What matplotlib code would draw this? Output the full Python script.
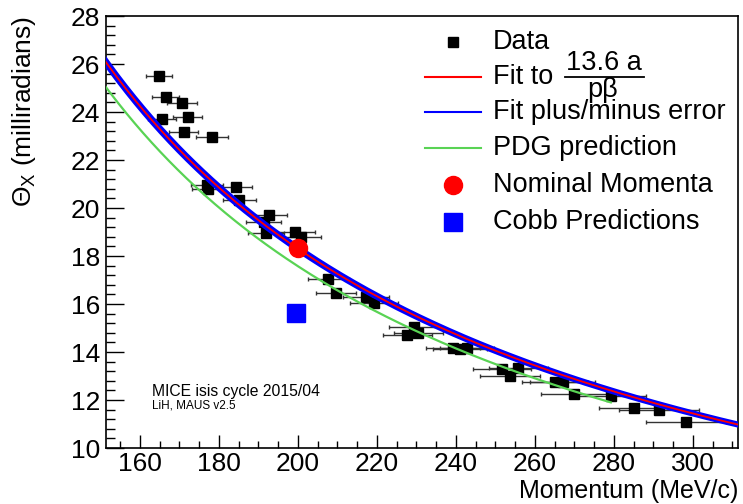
import matplotlib
matplotlib.use("Agg")
import matplotlib.pyplot as plt
import numpy as np

plt.rcParams['font.family'] = ['Liberation Sans', 'DejaVu Sans']
plt.rcParams['mathtext.fontset'] = 'custom'
plt.rcParams['mathtext.rm'] = 'Liberation Sans'
plt.rcParams['mathtext.it'] = 'Liberation Sans:italic'

# measured scattering width vs momentum
momentum = [164.8, 166.5, 170.6, 172.1, 165.6, 171.1, 178.3, 177.0, 177.1, 184.3,
            185.1, 192.6, 191.3, 191.9, 199.2, 200.7, 207.7, 209.6, 217.2, 219.2,
            229.4, 230.5, 227.7, 239.3, 241.0, 242.7, 251.6, 255.8, 253.7, 265.1,
            267.0, 270.0, 279.2, 285.1, 291.4, 298.2]
theta = [25.50, 24.64, 24.39, 23.80, 23.70, 23.15, 22.95, 20.96, 20.78, 20.86,
         20.33, 19.71, 19.43, 18.95, 18.99, 18.80, 17.03, 16.45, 16.30, 16.03,
         15.03, 14.78, 14.70, 14.15, 14.11, 14.15, 13.29, 13.32, 13.01, 12.74,
         12.74, 12.25, 12.18, 11.68, 11.58, 11.07]
mom_err = [3.4, 3.5, 3.8, 3.7, 3.5, 3.7, 4.0, 4.0, 4.0, 4.1,
           4.2, 4.6, 4.5, 4.5, 5.1, 5.1, 5.2, 5.1, 5.8, 6.1,
           6.3, 6.3, 6.2, 6.8, 6.8, 6.8, 7.4, 7.5, 7.6, 8.3,
           8.3, 8.6, 9.0, 9.0, 10.1, 10.2]
theta_err = [0.13] * len(theta)

# fit parameters (13.6 a / p beta)
fit_a = 0.238
fit_a_err = 0.0012
pdg_a = 0.2285
muon_mass = 105.66

nominal_p = [200.0]
nominal_theta = [18.32]
cobb_p = [199.5]
cobb_theta = [15.63]

FS = 19
LFS = 19.5


def highland(p, a):
    e = np.sqrt(p**2 + muon_mass**2)
    pbeta = p**2 / e
    return 13.6 * a / pbeta * 1000.0


fig = plt.figure(figsize=(7.43, 5.04), dpi=100)
ax = fig.add_axes([0.1427, 0.1111, 0.8506, 0.8571])

ax.errorbar(momentum, theta, xerr=mom_err, yerr=theta_err, fmt='s', color='black',
            ecolor='#333333', elinewidth=1.0, capsize=1.5, markersize=6.5, zorder=2)

pp = np.linspace(150, 313, 300)
pg = np.linspace(150, 279.2, 300)
ax.plot(pg, highland(pg, pdg_a), color='#59d354', lw=1.6, zorder=3)
ax.plot(pp, highland(pp, fit_a + fit_a_err), color='blue', lw=2.5, zorder=3)
ax.plot(pp, highland(pp, fit_a - fit_a_err), color='blue', lw=2.5, zorder=3)
ax.plot(pp, highland(pp, fit_a), color='red', lw=1.3, zorder=4)

ax.plot(nominal_p, nominal_theta, 'o', color='red', markersize=13, zorder=5)
ax.plot(cobb_p, cobb_theta, 's', color='blue', markersize=12.5, zorder=5)

ax.set_xlim(151.4, 311.4)
ax.set_ylim(10, 28)
ax.set_xticks(np.arange(160, 301, 20))
ax.set_xticks(np.arange(155, 311, 5), minor=True)
ax.set_yticks(np.arange(10, 28.1, 2))
ax.set_yticks(np.arange(10, 28.1, 0.4), minor=True)
ax.tick_params(which='both', direction='in', top=False, right=False, labelsize=FS, width=1)
ax.tick_params(axis='x', which='major', length=9.5, pad=3)
ax.tick_params(axis='x', which='minor', length=4.7)
ax.tick_params(axis='y', which='major', length=13, pad=4)
ax.tick_params(axis='y', which='minor', length=6.5)
for s in ax.spines.values():
    s.set_linewidth(1.2)

ax.set_xlabel('Momentum (MeV/c)', fontsize=18, loc='right')
ax.xaxis.set_label_coords(1.0, -0.072)
ax.set_ylabel(r'$\Theta_{\mathrm{X}}$ (milliradians)', fontsize=FS, loc='top')
ax.yaxis.set_label_coords(-0.108, 1.0)

ax.text(0.073, 0.120, 'MICE isis cycle 2015/04', transform=ax.transAxes,
        fontsize=11.3, va='baseline')
ax.text(0.073, 0.0926, 'LiH, MAUS v2.5', transform=ax.transAxes, fontsize=8.5,
        va='baseline')

# legend drawn by hand, ROOT style
kw = dict(transform=ax.transAxes, clip_on=False)
rows = [0.9405, 0.8595, 0.7785, 0.694, 0.609, 0.524]
ax.plot([0.549], [rows[0]], 's', color='black', markersize=6.5, **kw)
ax.plot([0.505, 0.593], [rows[1]] * 2, color='red', lw=1.5, **kw)
ax.plot([0.505, 0.593], [rows[2]] * 2, color='blue', lw=1.5, **kw)
ax.plot([0.505, 0.593], [rows[3]] * 2, color='#59d354', lw=1.5, **kw)
ax.plot([0.549], [rows[4]], 'o', color='red', markersize=13, **kw)
ax.plot([0.549], [rows[5]], 's', color='blue', markersize=12.5, **kw)
tx = 0.612
ax.text(tx, rows[0], 'Data', transform=ax.transAxes, fontsize=LFS, va='center')
ax.text(tx, rows[1], 'Fit to', transform=ax.transAxes, fontsize=LFS, va='center')
ax.text(0.788, 0.875, '13.6 a', transform=ax.transAxes, fontsize=LFS,
        ha='center', va='baseline')
ax.plot([0.726, 0.852], [rows[1]] * 2, color='black', lw=1.3, **kw)
ax.text(0.786, 0.812, 'pβ', transform=ax.transAxes,
        fontsize=LFS, ha='center', va='baseline')
ax.text(tx, rows[2], 'Fit plus/minus error', transform=ax.transAxes, fontsize=LFS, va='center')
ax.text(tx, rows[3], 'PDG prediction', transform=ax.transAxes, fontsize=LFS, va='center')
ax.text(tx, rows[4], 'Nominal Momenta', transform=ax.transAxes, fontsize=LFS, va='center')
ax.text(tx, rows[5], 'Cobb Predictions', transform=ax.transAxes, fontsize=LFS, va='center')

fig.savefig('out.png', dpi=100)
